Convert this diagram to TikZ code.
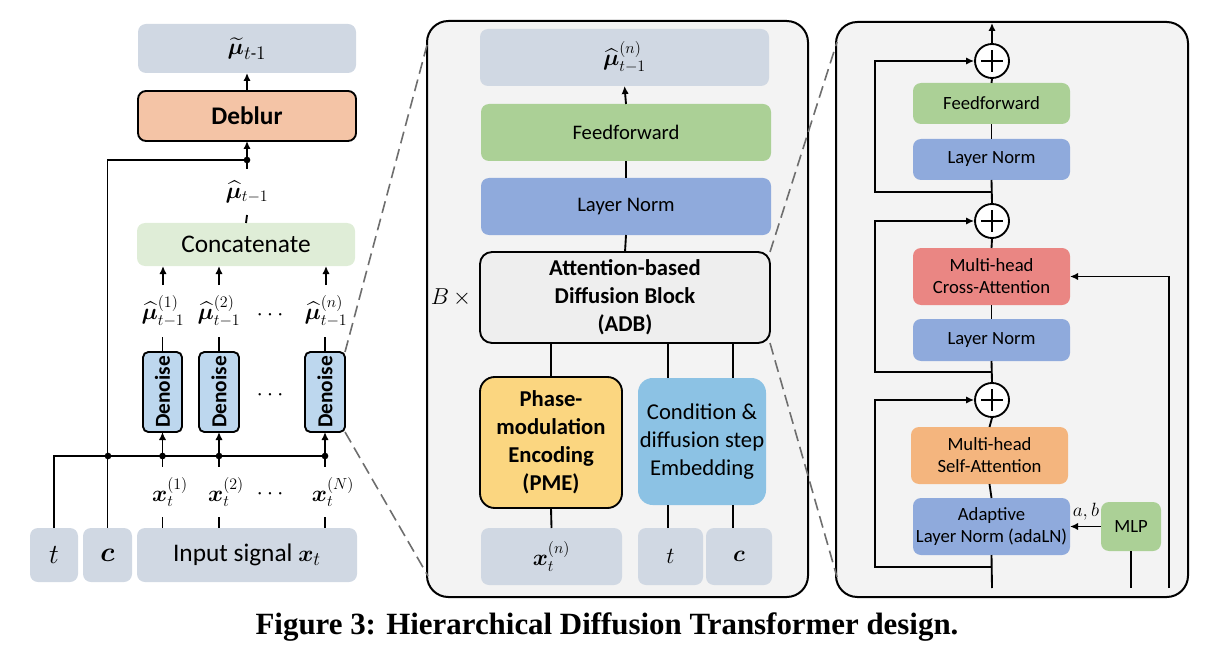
\documentclass[tikz,border=0pt]{standalone}
\usepackage{amsmath,bm,graphicx}
\usepackage[no-math]{fontspec}
\setmainfont{Carlito}
\newfontfamily\capfont{Liberation Serif}
\usetikzlibrary{arrows.meta}
\definecolor{inbg}{HTML}{D0D8E3}
\definecolor{deblurc}{HTML}{F4C4A6}
\definecolor{concc}{HTML}{DFEDD7}
\definecolor{denc}{HTML}{BDD7EE}
\definecolor{ffg}{HTML}{ABD096}
\definecolor{lnb}{HTML}{8FAADC}
\definecolor{adbc}{HTML}{EEEEEE}
\definecolor{pmec}{HTML}{FBD680}
\definecolor{condc}{HTML}{8CC2E4}
\definecolor{cac}{HTML}{EA8683}
\definecolor{sac}{HTML}{F4B57E}
\definecolor{framec}{HTML}{F3F3F3}
\definecolor{dashc}{HTML}{6E6E6E}
\newcommand\placebox[7]{\node[#6, minimum width={(#4-#2)*0.75pt}, minimum height={(#5-#3)*0.75pt}] (#1) at ({(#2+#4)/2},{(#3+#5)/2}) {#7};}
\tikzset{
  box/.style={rectangle, rounded corners=6pt, inner sep=0pt, outer sep=0pt, align=center},
  bd/.style={draw=black, line width=1.4pt},
  framebox/.style={rectangle, rounded corners=16pt, draw=black, line width=1.5pt, fill=framec, inner sep=0pt},
  conn/.style={line width=1.4pt},
  arr/.style={line width=1.4pt, -{Latex[length=6pt,width=5.5pt]}},
  dotn/.style={circle, fill=black, inner sep=0pt, minimum size=5pt},
  dashline/.style={draw=dashc, line width=1.2pt, dash pattern=on 9pt off 4.5pt},
  lbl/.style={inner sep=0pt, outer sep=0pt, font={\fontsize{16.5}{18}\selectfont}},
  plusn/.style={circle, draw=black, line width=1.4pt, fill=white, minimum size=25.5pt, inner sep=0pt,
    path picture={\draw[line width=2.2pt] ([xshift=-8pt]path picture bounding box.center) -- ([xshift=8pt]path picture bounding box.center) ([yshift=-8pt]path picture bounding box.center) -- ([yshift=8pt]path picture bounding box.center);}},
  fL/.style={font={\fontsize{19}{22}\selectfont}},
  fM/.style={font={\fontsize{15.5}{19}\selectfont}},
  fB/.style={font={\fontsize{17}{21}\selectfont\bfseries}},
  fC/.style={font={\fontsize{17}{21}\selectfont}},
  fR/.style={font={\fontsize{14}{16.5}\selectfont}},
  fT/.style={font={\fontsize{20}{22}\selectfont}},
}
\begin{document}
\begin{tikzpicture}[x=0.75pt,y=-0.75pt]
\useasboundingbox (0,0) rectangle (1212,652);
% ---------------- left panel ----------------
\placebox{mtil}{138}{24}{356}{73}{box, fill=inbg, font={\fontsize{19}{22}\selectfont}}{$\widetilde{\bm\mu}_{t\text{-}1}$}
\placebox{deblur}{138}{91}{356}{141}{box, bd, fill=deblurc, font={\fontsize{19}{22}\selectfont\bfseries}}{Deblur}
\placebox{conc}{137}{223}{355}{266}{box, fill=concc, fL}{Concatenate}
\placebox{dn1}{143}{352}{182}{432}{box, rounded corners=4pt, bd, fill=denc, font={\fontsize{16}{16}\selectfont\bfseries}}{\rotatebox{90}{Denoise}}
\placebox{dn2}{199}{352}{239}{432}{box, rounded corners=4pt, bd, fill=denc, font={\fontsize{16}{16}\selectfont\bfseries}}{\rotatebox{90}{Denoise}}
\placebox{dn3}{305}{352}{345}{432}{box, rounded corners=4pt, bd, fill=denc, font={\fontsize{16}{16}\selectfont\bfseries}}{\rotatebox{90}{Denoise}}
\placebox{tb}{30}{528}{78}{582}{box, fill=inbg, fT}{$t$}
\placebox{cb}{83}{528}{132}{582}{box, fill=inbg, fT}{$\bm{c}$}
\placebox{inp}{137}{528}{357}{582}{box, fill=inbg, fL}{Input signal $\bm{x}_t$}
\node[lbl, minimum height=34.5pt] (mhat) at (247,192) {$\widehat{\bm\mu}_{t-1}$};
\node[lbl, minimum height=39pt] (m1) at (163,311) {$\widehat{\bm\mu}^{(1)}_{t-1}$};
\node[lbl, minimum height=39pt] (m2) at (219,311) {$\widehat{\bm\mu}^{(2)}_{t-1}$};
\node[lbl, minimum height=39pt] (m3) at (326,311) {$\widehat{\bm\mu}^{(n)}_{t-1}$};
\node[lbl, minimum height=37.5pt] (x1) at (170,492) {$\bm{x}^{(1)}_{t}$};
\node[lbl, minimum height=37.5pt] (x2) at (226,492) {$\bm{x}^{(2)}_{t}$};
\node[lbl, minimum height=37.5pt] (x3) at (333,492) {$\bm{x}^{(N)}_{t}$};
\node[lbl] (dots1) at (272,315) {$\cdots$};
\node[lbl] (dots2) at (272,395) {$\cdots$};
\node[lbl] (dots3) at (272,494) {$\cdots$};
\coordinate (j1) at (247,160);
\coordinate (b0) at (108,456);
\coordinate (b1) at (162.5,456);
\coordinate (b2) at (219,456);
\coordinate (b3) at (325,456);
\draw[arr] (deblur.north) -- (mtil.south);
\draw[arr] (j1) -- (deblur.south);
\draw[conn] (j1) -| (cb.north);
\draw[conn] (tb.north) |- (b3);
\draw[conn] (conc.north) -- (mhat.south);
\draw[conn] (mhat.north) -- (j1);
\foreach \i in {1,2,3}{
  \draw[arr] (m\i.north) -- (m\i.north |- conc.south);
  \draw[conn] (dn\i.north) -- (dn\i.north |- m\i.south);
  \draw[arr] (b\i) -- (dn\i.south);
  \draw[conn] (b\i) -- (b\i |- x\i.north);
  \draw[conn] (b\i |- x\i.south) -- (b\i |- inp.north);
}
\foreach \p in {j1,b0,b1,b2,b3} \node[dotn] at (\p) {};
% ---------------- middle panel ----------------
\placebox{frame2}{427}{21}{808}{597}{framebox}{}
\placebox{outtop}{480}{29}{769}{86}{box, fill=inbg, fC}{$\widehat{\bm\mu}^{(n)}_{t-1}$}
\placebox{ff}{481}{104}{771}{161}{box, fill=ffg, fM}{Feedforward}
\placebox{ln}{481}{178}{771}{235}{box, fill=lnb, fM}{Layer Norm}
\placebox{adb}{480}{252}{770}{343}{box, rounded corners=9pt, bd, fill=adbc, fB}{Attention-based\\Diffusion Block\\(ADB)}
\placebox{pme}{480}{377}{622}{508}{box, rounded corners=11pt, bd, fill=pmec, fB}{Phase-\\modulation\\Encoding\\(PME)}
\placebox{cond}{638}{378}{766}{505}{box, rounded corners=11pt, fill=condc, fC}{Condition \&\\diffusion step\\Embedding}
\placebox{xn}{481}{528}{622}{585}{box, fill=inbg, fC}{$\bm{x}^{(n)}_{t}$}
\placebox{tb2}{638}{528}{703}{585}{box, fill=inbg, font={\fontsize{19}{22}\selectfont}}{$t$}
\placebox{cb2}{706}{528}{772}{585}{box, fill=inbg, font={\fontsize{19}{22}\selectfont}}{$\bm{c}$}
\node[lbl, font={\fontsize{19}{22}\selectfont}] (bx) at (451,298) {$B\,\times$};
\draw[arr] (ff.north) -- (outtop.south);
\draw[conn] (ln.north) -- (ff.south);
\draw[conn] (adb.north) -- (ln.south);
\draw[conn] (pme.north) -- (pme.north |- adb.south);
\draw[conn] (pme.south) -- (xn.north);
\draw[conn] ([xshift=-2pt]tb2.north) -- ([xshift=-2pt]tb2.north |- cond.south);
\draw[conn] ([xshift=-2pt]cond.north -| tb2.north) -- ([xshift=-2pt]tb2.north |- adb.south);
\draw[conn] ([xshift=-4.5pt]cb2.north) -- ([xshift=-4.5pt]cb2.north |- cond.south);
\draw[conn] ([xshift=-4.5pt]cond.north -| cb2.north) -- ([xshift=-4.5pt]cb2.north |- adb.south);
% ---------------- right panel ----------------
\placebox{frame3}{836}{22}{1188}{597}{framebox}{}
\node[plusn] (p1) at (992,61) {};
\placebox{ff3}{913}{83}{1070}{124}{box, fill=ffg, fR}{Feedforward}
\placebox{ln3a}{913}{139}{1070}{180}{box, fill=lnb, fR}{Layer Norm}
\node[plusn] (p2) at (992,221) {};
\placebox{ca}{913}{248}{1070}{305}{box, fill=cac, fR}{Multi-head\\Cross-Attention}
\placebox{ln3b}{913}{319}{1070}{361}{box, fill=lnb, fR}{Layer Norm}
\node[plusn] (p3) at (992,400) {};
\placebox{sa}{911}{427}{1068}{484}{box, fill=sac, fR}{Multi-head\\Self-Attention}
\placebox{ada}{913}{498}{1070}{555}{box, fill=lnb, fR}{Adaptive\\Layer Norm (adaLN)}
\placebox{mlp}{1101}{502}{1161}{551}{box, fill=ffg, fR}{MLP}
\node[lbl, font={\fontsize{14}{15}\selectfont}] (ab) at (1086,512) {$a,b$};
\coordinate (o3) at (992,23);
\coordinate (s1) at (992,192);
\coordinate (s2) at (992,372);
\coordinate (s3) at (992,567);
\coordinate (ain) at (992,588);
\coordinate (cin) at (1169,588);
\draw[arr] (p1.north) -- (o3);
\draw[conn] (ff3.north) -- (p1.south);
\draw[conn] (ln3a.north) -- (ff3.south);
\draw[conn] (ln3a.south) -- (p2.north);
\draw[conn] (p2.south) -- (ca.north);
\draw[conn] (ca.south) -- (ln3b.north);
\draw[conn] (ln3b.south) -- (p3.north);
\draw[conn] (p3.south) -- (sa.north);
\draw[conn] (sa.south) -- (ada.north);
\draw[conn] (ain) -- (ada.south);
\draw[arr] (s1) -- ++(-117,0) |- (p1.west);
\draw[arr] (s2) -- ++(-117,0) |- (p2.west);
\draw[arr] (s3) -- ++(-117,0) |- (p3.west);
\draw[arr] (cin) |- (ca.east);
\draw[arr] (mlp.west) -- (ada.east);
\draw[conn] (mlp.south) -- (mlp.south |- ain);
% ---------------- zoom lines ----------------
\coordinate (f2a) at (427,45);
\coordinate (f2b) at (428,576);
\coordinate (f3a) at (837,42);
\coordinate (f3b) at (837,577);
\draw[dashline] (dn3.north east) -- (f2a);
\draw[dashline] (dn3.south east) -- (f2b);
\draw[dashline] (adb.north east) -- (f3a);
\draw[dashline] (adb.south east) -- (f3b);
% ---------------- caption ----------------
\node[inner sep=0pt] (cap) at (607,627) {\resizebox{527pt}{!}{\capfont\bfseries Figure 3: Hierarchical Diffusion Transformer design.}};
\end{tikzpicture}
\end{document}
